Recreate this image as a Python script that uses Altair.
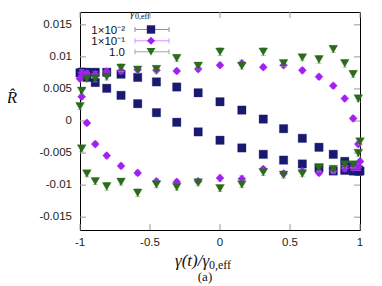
import altair as alt
import pandas as pd

# x positions (gamma(t)/gamma0,eff) for the two half-cycles
x_dec = [1.0, 0.988, 0.951, 0.891, 0.809, 0.707, 0.588, 0.454, 0.309, 0.156, 0.0,
         -0.156, -0.309, -0.454, -0.588, -0.707, -0.809, -0.891, -0.951, -0.988]
x_inc = [-1.0, -0.988, -0.951, -0.891, -0.809, -0.707, -0.588, -0.454, -0.309, -0.156, 0.0,
         0.156, 0.309, 0.454, 0.588, 0.707, 0.809, 0.891, 0.951, 0.988]

# gamma0,eff = 1e-2 (squares)
sq_dec = [-0.0078, -0.0078, -0.0078, -0.0077, -0.0078, -0.0073, -0.0067, -0.0061, -0.0052, -0.0042, -0.0030,
          -0.0017, -0.0002, 0.0013, 0.0027, 0.0040, 0.0051, 0.0060, 0.0068, 0.0074]
sq_inc = [0.0075, 0.0076, 0.0076, 0.0076, 0.0076, 0.0073, 0.0068, 0.0061, 0.0053, 0.0044, 0.0030,
          0.0017, 0.0003, -0.0012, -0.0027, -0.0041, -0.0052, -0.0063, -0.0071, -0.0076]
sq_err_dec = [0.0007, 0.0007, 0.0006, 0.0005, 0.0004, 0.0004, 0.0003, 0.0003, 0.0003, 0.0003, 0.0003,
              0.0003, 0.0003, 0.0003, 0.0003, 0.0004, 0.0004, 0.0005, 0.0006, 0.0007]
sq_err_inc = [0.0007, 0.0007, 0.0006, 0.0005, 0.0004, 0.0004, 0.0003, 0.0003, 0.0003, 0.0003, 0.0003,
              0.0003, 0.0003, 0.0003, 0.0003, 0.0004, 0.0004, 0.0005, 0.0006, 0.0007]

# gamma0,eff = 1e-1 (diamonds)
pu_dec = [-0.0063, -0.0072, -0.0073, -0.0074, -0.0078, -0.0081, -0.0078, -0.0082, -0.0075, -0.0090, -0.0089,
          -0.0094, -0.0095, -0.0094, -0.0081, -0.0070, -0.0054, -0.0036, -0.0003, 0.0038]
pu_inc = [0.0066, 0.0075, 0.0074, 0.0073, 0.0077, 0.0078, 0.0080, 0.0079, 0.0078, 0.0081, 0.0087,
          0.0090, 0.0084, 0.0087, 0.0079, 0.0069, 0.0055, 0.0035, 0.0004, -0.0036]
pu_err_dec = [0.0004, 0.0005, 0.0004, 0.0004, 0.0004, 0.0004, 0.0004, 0.0004, 0.0004, 0.0005, 0.0005,
              0.0004, 0.0004, 0.0004, 0.0004, 0.0004, 0.0004, 0.0004, 0.0004, 0.0004]
pu_err_inc = [0.0004, 0.0005, 0.0004, 0.0004, 0.0004, 0.0004, 0.0004, 0.0004, 0.0004, 0.0004, 0.0004,
              0.0005, 0.0004, 0.0004, 0.0004, 0.0004, 0.0004, 0.0004, 0.0004, 0.0004]

# gamma0,eff = 1.0 (down triangles)
gr_dec = [-0.0032, -0.0050, -0.0068, -0.0068, -0.0075, -0.0073, -0.0082, -0.0084, -0.0080, -0.0099, -0.0105,
          -0.0096, -0.0103, -0.0099, -0.0112, -0.0095, -0.0102, -0.0094, -0.0082, -0.0043]
gr_inc = [0.0023, 0.0047, 0.0066, 0.0066, 0.0069, 0.0083, 0.0080, 0.0081, 0.0098, 0.0086, 0.0108,
          0.0086, 0.0108, 0.0090, 0.0099, 0.0096, 0.0112, 0.0090, 0.0073, 0.0035]
gr_err_dec = [0.0005, 0.0005, 0.0005, 0.0005, 0.0005, 0.0006, 0.0005, 0.0005, 0.0005, 0.0005, 0.0005,
              0.0005, 0.0005, 0.0005, 0.0006, 0.0005, 0.0006, 0.0005, 0.0005, 0.0005]
gr_err_inc = [0.0005, 0.0005, 0.0005, 0.0005, 0.0005, 0.0006, 0.0005, 0.0005, 0.0005, 0.0005, 0.0006,
              0.0005, 0.0006, 0.0005, 0.0005, 0.0006, 0.0005, 0.0006, 0.0005, 0.0005]

series_labels = ["1×10⁻²", "1×10⁻¹", "1.0"]
marker_colors = ["#191970", "#a020f0", "#2c6a1c"]
bar_colors = ["#8c8cb8", "#d890ff", "#8fb47f"]
shapes = ["square", "diamond", "triangle-down"]
sizes = [70, 66, 78]

x_ticks = [-1, -0.5, 0, 0.5, 1]
x_tick_labels = ["-1", "-0.5", "0", "0.5", "1"]
y_ticks = [-0.015, -0.01, -0.005, 0, 0.005, 0.01, 0.015]
y_tick_labels = ["-0.015", "-0.01", "-0.005", "0", "0.005", "0.01", "0.015"]

W, H = 280, 218
xs = alt.Scale(domain=[-1, 1], nice=False, zero=False)
ys = alt.Scale(domain=[-0.017, 0.017], nice=False, zero=False)


def frame(yd, yi, ed, ei):
    xs_all = x_dec + x_inc
    ys_all = yd + yi
    es_all = ed + ei
    return pd.DataFrame({
        "x": xs_all,
        "y": ys_all,
        "lo": [a - b for a, b in zip(ys_all, es_all)],
        "hi": [a + b for a, b in zip(ys_all, es_all)],
    })


frames = [
    frame(sq_dec, sq_inc, sq_err_dec, sq_err_inc),
    frame(pu_dec, pu_inc, pu_err_dec, pu_err_inc),
    frame(gr_dec, gr_inc, gr_err_dec, gr_err_inc),
]

layers = []
NOAX = None

# frame ticks (inward, mirrored) and tick labels, through the scales
xt = pd.DataFrame({"v": x_ticks, "t": x_tick_labels})
yt = pd.DataFrame({"v": y_ticks, "t": y_tick_labels})
tick_col = "#9a9a9a"
X = lambda f: alt.X(f, scale=xs, axis=NOAX)
Y = lambda f: alt.Y(f, scale=ys, axis=NOAX)
layers.append(alt.Chart(yt).mark_rule(color=tick_col, strokeWidth=1).encode(
    y=Y("v:Q"), x=alt.value(0), x2=alt.value(6)))
layers.append(alt.Chart(yt).mark_rule(color=tick_col, strokeWidth=1).encode(
    y=Y("v:Q"), x=alt.value(W - 6), x2=alt.value(W)))
layers.append(alt.Chart(xt).mark_rule(color=tick_col, strokeWidth=1).encode(
    x=X("v:Q"), y=alt.value(H - 6), y2=alt.value(H)))
layers.append(alt.Chart(xt).mark_rule(color=tick_col, strokeWidth=1).encode(
    x=X("v:Q"), y=alt.value(0), y2=alt.value(6)))
layers.append(alt.Chart(yt).mark_text(align="right", baseline="middle", font="Liberation Sans",
                                      fontSize=11.5, color="#222").encode(
    y=Y("v:Q"), x=alt.value(-8), text="t:N"))
layers.append(alt.Chart(xt).mark_text(align="center", baseline="middle", font="Liberation Sans",
                                      fontSize=11.5, color="#222").encode(
    x=X("v:Q"), y=alt.value(H + 13), text="t:N"))

for df, mc, bc, shp, sz in zip(frames, marker_colors, bar_colors, shapes, sizes):
    base = alt.Chart(df)
    layers.append(base.mark_rule(color=bc, strokeWidth=1).encode(
        x=X("x:Q"), y=Y("lo:Q"), y2="hi:Q"))
    layers.append(base.mark_tick(color=bc, thickness=1, size=5, orient="horizontal").encode(
        x=X("x:Q"), y=Y("lo:Q")))
    layers.append(base.mark_tick(color=bc, thickness=1, size=5, orient="horizontal").encode(
        x=X("x:Q"), y=Y("hi:Q")))
    layers.append(base.mark_point(filled=True, shape=shp, size=sz, color=mc, opacity=1,
                                  stroke=mc, strokeWidth=0.6, strokeOpacity=0.5).encode(
        x=X("x:Q"), y=Y("y:Q")))

# legend (gnuplot style: label, then sample)
row_y = [17.5, 28.8, 39.8]
for lab, mc, bc, shp, sz, ry in zip(series_labels, marker_colors, bar_colors, shapes, sizes, row_y):
    d = pd.DataFrame({"t": [lab]})
    layers.append(alt.Chart(d).mark_text(align="right", baseline="middle", font="Liberation Sans",
                                         fontSize=11.5, color="#111").encode(
        text="t:N", x=alt.value(45), y=alt.value(ry + 1)))
    layers.append(alt.Chart(d).mark_rule(color=bc, strokeWidth=1).encode(
        x=alt.value(55), x2=alt.value(89), y=alt.value(ry)))
    layers.append(alt.Chart(d).mark_rule(color=bc, strokeWidth=1).encode(
        x=alt.value(55), y=alt.value(ry - 2.5), y2=alt.value(ry + 2.5)))
    layers.append(alt.Chart(d).mark_rule(color=bc, strokeWidth=1).encode(
        x=alt.value(89), y=alt.value(ry - 2.5), y2=alt.value(ry + 2.5)))
    layers.append(alt.Chart(d).mark_point(filled=True, shape=shp, size=sz, color=mc, opacity=1).encode(
        x=alt.value(71), y=alt.value(ry)))

# legend title gamma_{0,eff}
layers.append(alt.Chart(pd.DataFrame({"t": ["γ"]})).mark_text(
    align="left", baseline="alphabetic", font="Liberation Serif", fontStyle="italic", fontSize=11,
    color="#111").encode(text="t:N", x=alt.value(50), y=alt.value(5)))
layers.append(alt.Chart(pd.DataFrame({"t": ["0,eff"]})).mark_text(
    align="left", baseline="alphabetic", font="Liberation Serif", fontSize=8,
    color="#111").encode(text="t:N", x=alt.value(55), y=alt.value(7)))

# x title gamma(t)/gamma_{0,eff}
layers.append(alt.Chart(pd.DataFrame({"t": ["γ(t)/γ"]})).mark_text(
    align="left", baseline="alphabetic", font="Liberation Serif", fontStyle="italic", fontSize=17,
    color="#111").encode(text="t:N", x=alt.value(95), y=alt.value(254)))
layers.append(alt.Chart(pd.DataFrame({"t": ["0,eff"]})).mark_text(
    align="left", baseline="alphabetic", font="Liberation Serif", fontSize=12,
    color="#111").encode(text="t:N", x=alt.value(129), y=alt.value(257)))
layers.append(alt.Chart(pd.DataFrame({"t": ["(a)"]})).mark_text(
    align="center", baseline="alphabetic", font="Liberation Serif", fontSize=13,
    color="#111").encode(text="t:N", x=alt.value(125), y=alt.value(269)))
# y title R-hat
layers.append(alt.Chart(pd.DataFrame({"t": ["R̂"]})).mark_text(
    align="center", baseline="middle", font="Liberation Serif", fontStyle="italic", fontSize=17,
    color="#111").encode(text="t:N", x=alt.value(-68), y=alt.value(86)))

chart = alt.layer(*layers).properties(
    width=W, height=H,
    autosize="none",
    padding={"left": 72, "top": 4, "right": 6, "bottom": 54},
    background="white",
).configure_view(stroke="black", strokeWidth=1)

chart.save("out.html", embed_options={"renderer": "svg", "actions": False})
